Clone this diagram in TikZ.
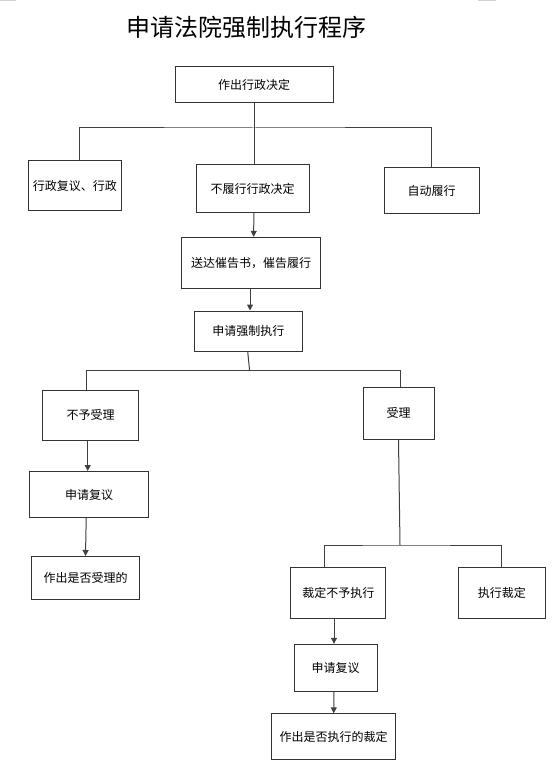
\documentclass[tikz,border=0pt]{standalone}
\usepackage{fontspec}
\newfontfamily\cjk{Noto Sans CJK SC}
\usetikzlibrary{arrows.meta}
\begin{document}
\begin{tikzpicture}[x=1pt,y=-1pt,
  box/.style={draw=black!80, line width=1pt, rectangle, inner sep=0pt, font=\cjk\fontsize{12}{14}\selectfont, align=center},
  conn/.style={draw=black!75, line width=1pt},
  arr/.style={conn, -{Triangle[length=6pt,width=6pt]}}]
\useasboundingbox (0,0) rectangle (554,762);
\fill[white] (0,0) rectangle (554,762);
\draw[gray!35, line width=1.5pt] (0,0.5) -- (16,0.5);
\draw[gray!35, line width=1.5pt] (478,0.5) -- (496,0.5);
\node[font=\cjk\fontsize{24}{28}\selectfont] (title) at (246,27) {申请法院强制执行程序};
% nodes
\node[box, minimum width=158pt, minimum height=36pt] (A) at (254,85) {作出行政决定};
\node[box, minimum width=93pt, minimum height=49pt] (B1) at (74.75,185.5) {行政复议、行政};
\node[box, minimum width=113pt, minimum height=47pt] (B2) at (252.5,188.5) {不履行行政决定};
\node[box, minimum width=95pt, minimum height=45pt] (B3) at (431.5,190.5) {自动履行};
\node[box, minimum width=139pt, minimum height=51pt] (C) at (251.2,262.8) {送达催告书，催告履行};
\node[box, minimum width=108pt, minimum height=40pt] (D) at (248.3,331) {申请强制执行};
\node[box, minimum width=96pt, minimum height=50pt] (E) at (90.7,415) {不予受理};
\node[box, minimum width=71pt, minimum height=52pt] (F) at (398.5,413.3) {受理};
\node[box, minimum width=119pt, minimum height=46pt] (G) at (89.2,494.5) {申请复议};
\node[box, minimum width=108pt, minimum height=43pt] (H) at (85.5,578) {作出是否受理的};
\node[box, minimum width=95pt, minimum height=51pt] (I) at (338.3,593) {裁定不予执行};
\node[box, minimum width=87.5pt, minimum height=51pt] (J) at (501.8,593) {执行裁定};
\node[box, minimum width=83pt, minimum height=47pt] (K) at (335.6,667.8) {申请复议};
\node[box, minimum width=124pt, minimum height=46pt] (L) at (333.7,736.8) {作出是否执行的裁定};
% junctions
\coordinate (j1) at (254,128);
\coordinate (j2) at (249.6,370.7);
\coordinate (j3) at (400,545);
% connectors
\draw[conn] (A.south) -- (j1);
\draw[conn] ([xshift=4.3pt]B1.north) |- (j1) -| (B3.north);
\draw[conn] (j1) -- ([xshift=1.5pt]B2.north);
\draw[arr] ([xshift=1.3pt]B2.south) -- ([xshift=2.5pt]C.north);
\draw[arr] ([xshift=-1.2pt]C.south) -- ([xshift=1.7pt]D.north);
\draw[conn] ([xshift=-0.6pt]D.south) -- (j2);
\draw[conn] ([xshift=-4.4pt]E.north) |- (j2) -| ([xshift=1.5pt]F.north);
\draw[arr] ([xshift=-3pt]E.south) -- ([xshift=-1.5pt]G.north);
\draw[arr] ([xshift=-3pt]G.south) -- (H.north);
\draw[conn] (F.south) -- (j3);
\draw[conn] ([xshift=-14pt]I.north) |- (j3) -| (J.north);
\draw[arr] ([xshift=-4.3pt]I.south) -- ([xshift=-1.6pt]K.north);
\draw[arr] ([xshift=-1.6pt]K.south) -- (L.north);
\end{tikzpicture}
\end{document}
